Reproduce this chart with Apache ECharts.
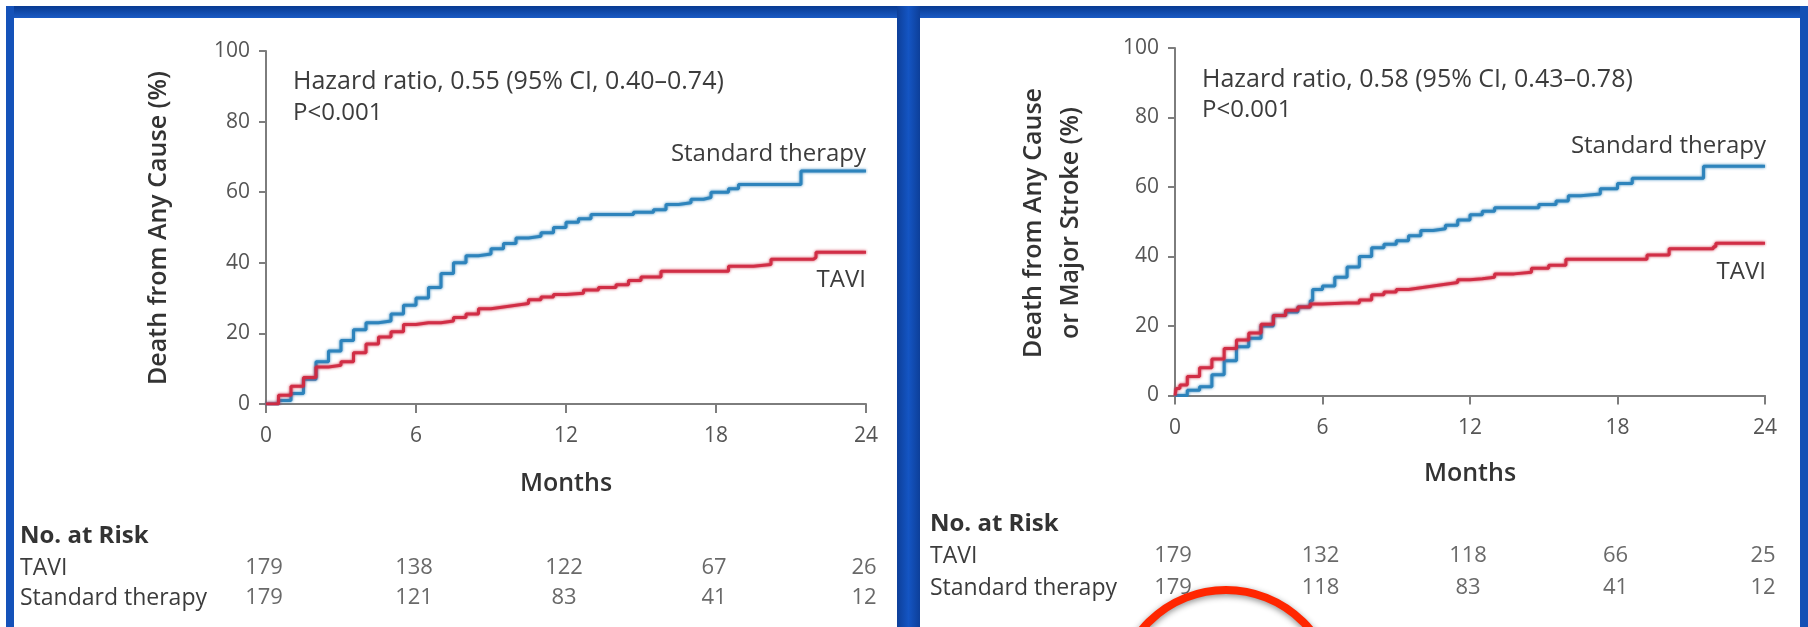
<!DOCTYPE html>
<html>
<head>
<meta charset="utf-8">
<script src="https://cdn.jsdelivr.net/npm/echarts@6/dist/echarts.min.js"></script>
<style>
html,body{margin:0;padding:0;background:#fff;}
#c{width:1808px;height:627px;}
</style>
</head>
<body>
<div id="c"></div>
<script>
// ---------- DATA ----------
const xTicks = [0, 6, 12, 18, 24];
const yTicks = [0, 20, 40, 60, 80, 100];

// Left panel: Death from any cause  [month, %]
const leftStandard = [[0,0],[0.5,1],[1,3],[1.5,7],[2,12],[2.5,15],[3,18],[3.5,21],[4,23],[4.5,23.5],[5,25.5],[5.5,28],[6,30],[6.5,33],[7,37],[7.5,40],[8,42],[8.5,42.5],[9,44],[9.5,45.5],[10,47],[10.5,47.5],[11,48.5],[11.5,50],[12,51.5],[12.5,52.5],[13,53.7],[14,53.7],[14.7,54.3],[15.5,55],[16,56.5],[16.5,57],[17,58],[17.5,58.5],[17.8,60],[18.5,61],[18.9,62.2],[21.2,62.2],[21.4,66],[24,66]];
const leftTAVI = [[0,0],[0.5,2.5],[1,5],[1.5,7.5],[2,10.5],[2.5,11],[3,12],[3.5,14.5],[4,17],[4.5,19],[5,20.5],[5.5,22.5],[6,23],[6.5,23],[7,23.5],[7.5,24.5],[8,25.5],[8.5,27],[9,27.5],[9.5,28],[10,28.5],[10.5,29.5],[11,30.3],[11.5,31],[12,31.4],[12.7,32.3],[13.3,33],[14,33.8],[14.5,35],[15,36],[15.8,37.6],[18.3,37.6],[18.5,39],[19.5,39.5],[20.2,41],[21.9,41.5],[22,43],[24,43]];

// Right panel: Death from any cause or major stroke [month, %]
const rightStandard = [[0,0],[0.5,1.5],[1,2.5],[1.5,6],[2,10],[2.5,14],[3,16.5],[3.5,20],[4,23],[4.5,24],[5,25.5],[5.5,27.3],[5.6,30.5],[6,31.5],[6.5,34],[7,37],[7.5,40],[8,42.5],[8.5,43.5],[9,44.5],[9.5,46],[10,47.5],[10.5,48],[11,49],[11.5,50.5],[12,52],[12.5,53],[13,54],[14,54],[14.8,55],[15.5,56],[16,57.5],[16.5,58],[17.3,59.5],[18,61],[18.6,62.5],[21.2,62.5],[21.5,66],[24,66]];
const rightTAVI = [[0,0],[0.05,2],[0.2,3],[0.5,5.5],[1,8],[1.5,10.5],[2,13.5],[2.5,16],[3,18],[3.5,20.5],[4,23],[4.5,24.5],[5,25.5],[5.5,26.3],[6,26.6],[7,26.6],[7.5,27.5],[8,29],[8.5,29.8],[9,30.5],[9.5,31],[10,31.5],[10.5,32],[11,32.5],[11.5,33.3],[12,33.6],[12.5,34],[13,35],[13.8,35.5],[14.5,36.6],[15.2,37.5],[15.9,39.2],[18.2,39.2],[19.2,40.4],[20.1,42.2],[21.9,42.8],[22,43.8],[24,43.8]];

// Numbers at risk at months 0, 6, 12, 18, 24
const leftRiskTAVI = [179, 138, 122, 67, 26];
const leftRiskStandard = [179, 121, 83, 41, 12];
const rightRiskTAVI = [179, 132, 118, 66, 25];
const rightRiskStandard = [179, 118, 83, 41, 12];

const leftYTitle = 'Death from Any Cause (%)';
const rightYTitle = 'Death from Any Cause\nor Major Stroke (%)';
const leftHR = 'Hazard ratio, 0.55 (95% CI, 0.40\u20130.74)';
const rightHR = 'Hazard ratio, 0.58 (95% CI, 0.43\u20130.78)';
const pText = 'P<0.001';

// ---------- STYLE ----------
const FONT = '"Open Sans", "Noto Sans", sans-serif';
const BLUE = '#2a82bb';
const RED = '#d02a42';
const AX = '#7d7d7d';
const TXT = '#3c3c3c';

const chart = echarts.init(document.getElementById('c'), null, {renderer: 'canvas'});

function xAx(gi) {
  return {
    type: 'value', gridIndex: gi, min: 0, max: 24, interval: 6,
    axisLine: {show: true, lineStyle: {color: AX, width: 2}},
    axisTick: {show: true, length: 9, lineStyle: {color: AX, width: 2}},
    axisLabel: {show: true, margin: 22, color: '#555', fontSize: 21, fontFamily: FONT},
    splitLine: {show: false}
  };
}
function yAx(gi) {
  return {
    type: 'value', gridIndex: gi, min: 0, max: 100, interval: 20,
    axisLine: {show: true, lineStyle: {color: AX, width: 2}},
    axisTick: {show: true, length: 7, lineStyle: {color: AX, width: 2}},
    axisLabel: {show: true, margin: 16, color: '#555', fontSize: 21, fontFamily: FONT},
    splitLine: {show: false}
  };
}
function hidX(gi){ return {type:'value', gridIndex:gi, min:0, max:24, show:false}; }
function hidY(gi){ return {type:'value', gridIndex:gi, min:0, max:1, show:false}; }

function km(name, data, color, xi, yi) {
  return {
    type: 'line', name, data, step: 'end', xAxisIndex: xi, yAxisIndex: yi,
    showSymbol: false, symbol: 'none', silent: true,
    lineStyle: {color, width: 3, shadowColor: color, shadowBlur: 3, opacity: 0.95},
    z: 3
  };
}
function riskData(arr, row) { return arr.map((v, i) => [xTicks[i], row, v]); }
function risk(arrT, arrS, xi, yi) {
  return {
    type: 'scatter', xAxisIndex: xi, yAxisIndex: yi, symbolSize: 1, silent: true,
    itemStyle: {color: 'rgba(0,0,0,0)'},
    data: riskData(arrT, 1).concat(riskData(arrS, 0)),
    label: {show: true, position: 'inside', formatter: p => String(p.value[2]),
      color: '#444', fontSize: 22, fontFamily: FONT, offset: [-2, 0]}
  };
}

function txt(x, y, text, opts, rot) {
  const el = {
    type: 'text', x, y, z: 10,
    style: Object.assign({text, fill: TXT, fontSize: 23, fontFamily: FONT, verticalAlign: 'middle', align: 'left'}, opts || {})
  };
  if (rot) el.rotation = rot;
  return el;
}

const graphics = [
  // frame
  {type:'rect', shape:{x:6,y:6,width:1802,height:12}, style:{fill:new echarts.graphic.LinearGradient(0,0,0,1,[{offset:0,color:'#083a92'},{offset:1,color:'#1a5ac4'}])}, z:-1},
  {type:'rect', shape:{x:6,y:6,width:8,height:621}, style:{fill:'#1552b9'}, z:-1},
  {type:'rect', shape:{x:897,y:6,width:23,height:621}, style:{fill:new echarts.graphic.LinearGradient(0,0,1,0,[{offset:0,color:'#0d3f99'},{offset:0.5,color:'#1455c3'},{offset:1,color:'#0d3f99'}])}, z:-1},
  {type:'rect', shape:{x:1800,y:6,width:8,height:621}, style:{fill:'#1450b5'}, z:-1},
  // left panel texts
  txt(159, 228, leftYTitle, {align:'center', fontSize: 25, fontWeight: 600, fill: '#333'}, Math.PI/2),
  txt(293, 82, leftHR, {fontSize: 25}),
  txt(293, 113, pText, {fontSize: 24}),
  txt(866, 154, 'Standard therapy', {align:'right', fontSize: 24}),
  txt(866, 280, 'TAVI', {align:'right', fontSize: 24}),
  txt(566, 484, 'Months', {align:'center', fontWeight: 600, fontSize: 25, fill: '#333'}),
  txt(20, 536, 'No. at Risk', {fontWeight: 700, fontSize: 24, fill: '#333'}),
  txt(20, 568, 'TAVI'),
  txt(20, 598, 'Standard therapy'),
  // right panel texts
  txt(1052, 223, rightYTitle, {align:'center', fontSize: 25, fontWeight: 600, fill: '#333', lineHeight: 37}, Math.PI/2),
  txt(1202, 80, rightHR, {fontSize: 25}),
  txt(1202, 110, pText, {fontSize: 24}),
  txt(1766, 146, 'Standard therapy', {align:'right', fontSize: 24}),
  txt(1766, 272, 'TAVI', {align:'right', fontSize: 24}),
  txt(1470, 474, 'Months', {align:'center', fontWeight: 600, fontSize: 25, fill: '#333'}),
  txt(930, 524, 'No. at Risk', {fontWeight: 700, fontSize: 24, fill: '#333'}),
  txt(930, 556, 'TAVI'),
  txt(930, 588, 'Standard therapy'),
  // red annotation ring
  {type:'circle', shape:{cx:1226, cy:699, r:109}, z:20,
    style:{fill:'none', stroke:'#ff2600', lineWidth:8, shadowBlur:6, shadowColor:'rgba(0,0,0,0.45)', shadowOffsetY:2}}
];

chart.setOption({
  animation: false,
  backgroundColor: '#ffffff',
  grid: [
    {left: 266, top: 51, width: 600, height: 353},
    {left: 1175, top: 48, width: 590, height: 347.5},
    {left: 266, top: 568, width: 600, height: 30},
    {left: 1175, top: 556, width: 590, height: 32}
  ],
  xAxis: [xAx(0), xAx(1), hidX(2), hidX(3)],
  yAxis: [yAx(0), yAx(1), hidY(2), hidY(3)],
  series: [
    km('Standard therapy', leftStandard, BLUE, 0, 0),
    km('TAVI', leftTAVI, RED, 0, 0),
    km('Standard therapy', rightStandard, BLUE, 1, 1),
    km('TAVI', rightTAVI, RED, 1, 1),
    risk(leftRiskTAVI, leftRiskStandard, 2, 2),
    risk(rightRiskTAVI, rightRiskStandard, 3, 3)
  ],
  graphic: graphics
});
</script>
</body>
</html>
